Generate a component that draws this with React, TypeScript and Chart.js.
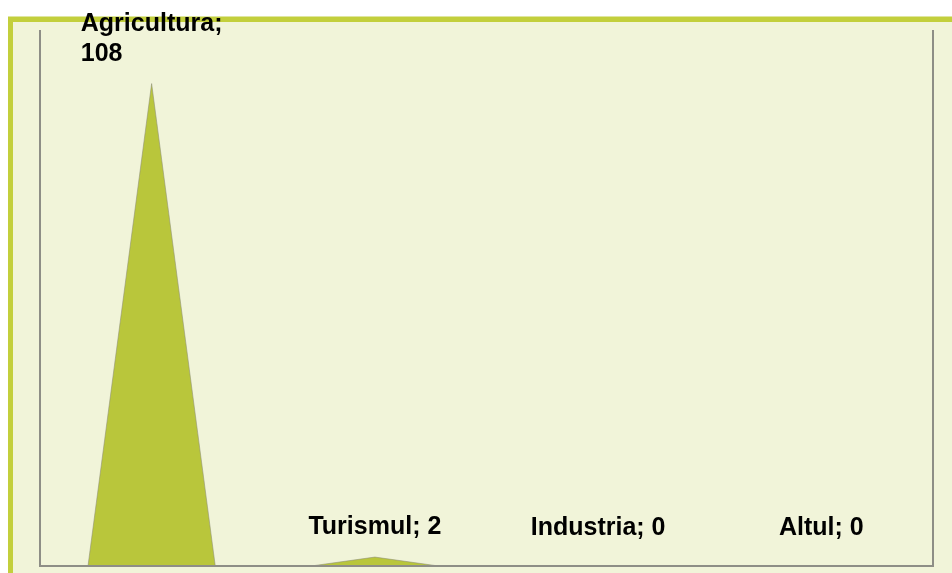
import React, { useEffect, useRef } from "react";
import { Chart, registerables } from "chart.js";

Chart.register(...registerables);

const categories = ["Agricultura", "Turismul", "Industria", "Altul"];
const values = [108, 2, 0, 0];
const yMax = 120;

const FILL = "#b9c63b";
const BG = "#f1f4d9";
const FRAME = "#c3cf3c";
const AXIS = "#8e8e86";
const FONT = 'bold 25px "Liberation Sans", Arial, sans-serif';

const peakPlugin = {
  id: "peaks",
  beforeDraw(chart: any) {
    const { ctx, width, height } = chart;
    ctx.save();
    ctx.fillStyle = "#ffffff";
    ctx.fillRect(0, 0, width, height);
    ctx.fillStyle = FRAME;
    ctx.fillRect(8, 16, width - 8, height - 16);
    ctx.fillStyle = "#dfe6a0";
    ctx.fillRect(8, 16, width - 8, 1);
    ctx.fillStyle = BG;
    ctx.fillRect(13, 22, width - 13, height - 22);
    ctx.restore();
  },
  afterDatasetsDraw(chart: any) {
    const { ctx, chartArea } = chart;
    const meta = chart.getDatasetMeta(0);
    ctx.save();
    // triangles
    meta.data.forEach((el: any) => {
      const props = el.getProps(["x", "y", "base", "width"], true);
      const half = props.width / 2;
      ctx.beginPath();
      ctx.moveTo(props.x - half, props.base);
      ctx.lineTo(props.x, props.y);
      ctx.lineTo(props.x + half, props.base);
      ctx.closePath();
      ctx.fillStyle = FILL;
      ctx.fill();
      ctx.strokeStyle = "rgba(140,140,120,0.55)";
      ctx.lineWidth = 1;
      ctx.stroke();
    });
    // axes
    ctx.strokeStyle = AXIS;
    ctx.lineWidth = 2;
    ctx.beginPath();
    ctx.moveTo(chartArea.left, chartArea.top);
    ctx.lineTo(chartArea.left, chartArea.bottom);
    ctx.lineTo(chartArea.right, chartArea.bottom);
    ctx.lineTo(chartArea.right, chartArea.top);
    ctx.stroke();
    // labels
    ctx.font = FONT;
    ctx.fillStyle = "#000000";
    ctx.textBaseline = "alphabetic";
    ctx.textAlign = "left";
    const lineH = 30;
    const maxW = 180;
    meta.data.forEach((el: any, i: number) => {
      const props = el.getProps(["x", "y", "base"], true);
      const full = `${categories[i]}; ${values[i]}`;
      let lines: string[];
      if (ctx.measureText(full).width > maxW) {
        lines = [`${categories[i]};`, `${values[i]}`];
      } else {
        lines = [full];
      }
      const widths = lines.map((l) => ctx.measureText(l).width);
      const blockW = Math.max(...widths);
      const lastBaseline = Math.min(props.y - 23, props.base - 31);
      const x0 = props.x - blockW / 2;
      lines.forEach((l, k) => {
        const yy = lastBaseline - (lines.length - 1 - k) * lineH;
        ctx.fillText(l, x0, yy);
      });
    });
    ctx.restore();
  },
};

export default function App() {
  const ref = useRef<HTMLCanvasElement>(null);
  useEffect(() => {
    if (!ref.current) return;
    const chart = new Chart(ref.current, {
      type: "bar",
      data: {
        labels: categories,
        datasets: [
          {
            data: values,
            backgroundColor: "rgba(0,0,0,0)",
            borderWidth: 0,
            barPercentage: 0.57,
            categoryPercentage: 1,
          },
        ],
      },
      options: {
        responsive: false,
        animation: false,
        layout: { padding: { left: 40, top: 30, right: 19, bottom: 7 } },
        plugins: { legend: { display: false }, tooltip: { enabled: false } },
        scales: {
          x: { display: false },
          y: { display: false, min: 0, max: yMax },
        },
      },
      plugins: [peakPlugin],
    });
    return () => chart.destroy();
  }, []);
  return (
    <div style={{ position: "fixed", left: 0, top: 0, width: 952, height: 573, background: "#fff" }}>
      <canvas ref={ref} width={952} height={573} style={{ display: "block", width: 952, height: 573 }} />
    </div>
  );
}
